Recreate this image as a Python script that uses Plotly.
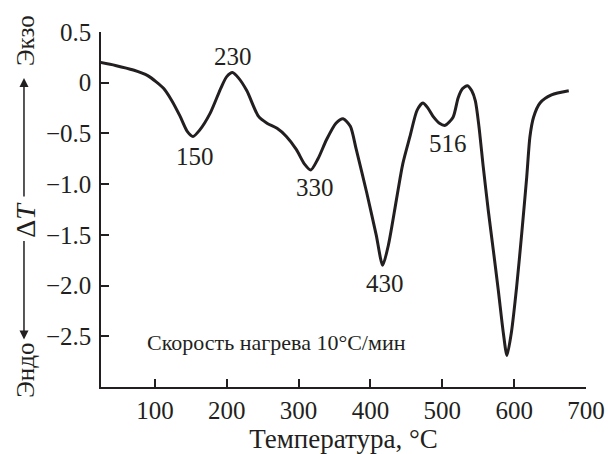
import plotly.graph_objects as go

# DTA curve: temperature (°C) vs ΔT
temperature = [24, 45, 70, 90, 112, 123, 135, 145, 153, 162, 177, 192, 200, 208, 216, 228,
               244, 256, 270, 283, 297, 308, 317, 327, 339, 352, 362, 372, 380, 395, 408,
               417, 425, 436, 445, 455, 465, 473, 480, 488, 496, 504, 515, 522, 528, 535,
               541, 546, 551, 557, 564, 571, 578, 585, 590, 596, 603.5, 610.5, 617.5, 622,
               627, 636, 652, 676]
delta_t = [0.20, 0.17, 0.125, 0.07, -0.055, -0.17, -0.33, -0.48, -0.53, -0.47, -0.30, -0.05,
           0.06, 0.10, 0.05, -0.08, -0.33, -0.40, -0.45, -0.53, -0.66, -0.80, -0.86, -0.75,
           -0.56, -0.40, -0.355, -0.43, -0.65, -1.09, -1.50, -1.80, -1.60, -1.16, -0.80,
           -0.53, -0.27, -0.20, -0.25, -0.34, -0.40, -0.42, -0.34, -0.15, -0.06, -0.03,
           -0.08, -0.18, -0.43, -0.83, -1.26, -1.65, -2.05, -2.47, -2.69, -2.47, -2.01,
           -1.49, -0.93, -0.53, -0.34, -0.20, -0.12, -0.08]

# peak labels
peak_labels = ["230", "150", "330", "430", "516"]
peak_label_x = [209, 155.7, 322.8, 420, 507.5]
peak_label_y = [0.257, -0.73, -1.03, -1.98, -0.60]

x_tickvals = [100, 200, 300, 400, 500, 600, 700]
y_tickvals = [0.5, 0, -0.5, -1.0, -1.5, -2.0, -2.5]
y_ticktext = ["0.5", "0", "\u22120.5", "\u22121.0", "\u22121.5", "\u22122.0", "\u22122.5"]

FONT = "Liberation Serif"
INK = "#231f20"

fig = go.Figure()
fig.add_trace(go.Scatter(
    x=temperature, y=delta_t, mode="lines",
    line=dict(color=INK, width=3, shape="spline", smoothing=0.7),
    hoverinfo="skip", showlegend=False,
))

annotations = []
for t, xv, yv in zip(peak_labels, peak_label_x, peak_label_y):
    annotations.append(dict(x=xv, y=yv, xref="x", yref="y", text=t, showarrow=False,
                            xanchor="center", yanchor="middle",
                            font=dict(family=FONT, size=25, color=INK)))

annotations.append(dict(x=86, y=-2.557, xref="x", yref="y", xanchor="left", yanchor="middle",
                        text="Скорость нагрева 10°C/мин", showarrow=False,
                        font=dict(family=FONT, size=22, color=INK)))

# y-axis composite title
annotations.append(dict(x=-0.1546, y=0.975, xref="paper", yref="paper", text="Экзо",
                        textangle=-90, showarrow=False, xanchor="center", yanchor="middle",
                        font=dict(family=FONT, size=25, color=INK)))
annotations.append(dict(x=-0.1546, y=0.046, xref="paper", yref="paper", text="Эндо",
                        textangle=-90, showarrow=False, xanchor="center", yanchor="middle",
                        font=dict(family=FONT, size=25, color=INK)))
annotations.append(dict(x=-0.1546, y=0.471, xref="paper", yref="paper", text="Δ<i>T</i>",
                        textangle=-90, showarrow=False, xanchor="center", yanchor="middle",
                        font=dict(family=FONT, size=28, color=INK)))
annotations.append(dict(x=-0.1588, y=0.8706, xref="paper", yref="paper", text="",
                        showarrow=True, ax=0, ay=120, arrowhead=2, arrowsize=1.2,
                        arrowwidth=1.5, arrowcolor=INK))
annotations.append(dict(x=-0.1588, y=0.1336, xref="paper", yref="paper", text="",
                        showarrow=True, ax=0, ay=-100, arrowhead=2, arrowsize=1.2,
                        arrowwidth=1.5, arrowcolor=INK))

fig.update_layout(
    width=608, height=454,
    margin=dict(l=101, r=22, t=32, b=66.5, autoexpand=False),
    paper_bgcolor="white", plot_bgcolor="white",
    font=dict(family=FONT, color=INK, size=25),
    annotations=annotations,
    xaxis=dict(range=[25, 700], showline=True, linecolor=INK, linewidth=1.5,
               ticks="inside", ticklen=8, tickwidth=1.5, tickcolor=INK,
               tickvals=x_tickvals, showgrid=False, zeroline=False, automargin=False,
               tickfont=dict(family=FONT, size=25, color=INK), ticklabelstandoff=0,
               title=dict(text="Температура, °C", font=dict(family=FONT, size=27, color=INK),
                          standoff=13)),
    yaxis=dict(range=[-3, 0.5], showline=True, linecolor=INK, linewidth=1.5,
               ticks="inside", ticklen=8, tickwidth=1.5, tickcolor=INK,
               tickvals=y_tickvals, ticktext=y_ticktext, showgrid=False, zeroline=False,
               automargin=False,
               tickfont=dict(family=FONT, size=25, color=INK), ticklabelstandoff=3),
)

fig.write_html("out.html")
